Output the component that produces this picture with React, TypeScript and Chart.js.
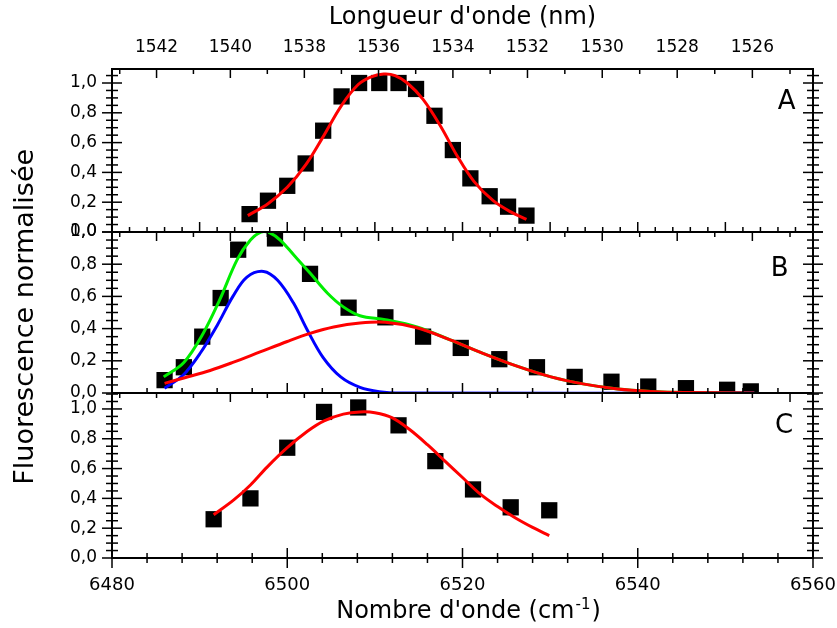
import React, { useEffect, useRef } from 'react';
import { Chart, registerables } from 'chart.js';

Chart.register(...registerables);

// ---------- data ----------
const X_MIN = 6480;
const X_MAX = 6560;
const X_TICKS = [6480, 6500, 6520, 6540, 6560];
const NM_TICKS = [1542, 1540, 1538, 1536, 1534, 1532, 1530, 1528, 1526];
const Y_TICKS = [0, 0.2, 0.4, 0.6, 0.8, 1.0];

const A_MAX = 1.094;
const B_MAX = 1.0;
const C_MAX = 1.107;

// Panel A
const A_X = [6495.7, 6497.8, 6500.0, 6502.1, 6504.1, 6506.2, 6508.2, 6510.5, 6512.7, 6514.7, 6516.8, 6518.9, 6520.9, 6523.1, 6525.2, 6527.3];
const A_Y = [0.12, 0.21, 0.31, 0.46, 0.68, 0.91, 1.0, 1.0, 1.0, 0.96, 0.78, 0.55, 0.36, 0.24, 0.17, 0.11];
const A_FIT_X = [6495.5, 6497.8, 6500.0, 6502.1, 6504.0, 6506.2, 6508.1, 6509.5, 6511.0, 6512.3, 6513.7, 6515.5, 6517.5, 6519.4, 6521.3, 6523.5, 6525.5, 6527.3];
const A_FIT_Y = [0.11, 0.19, 0.30, 0.45, 0.63, 0.85, 0.99, 1.04, 1.06, 1.05, 1.0, 0.89, 0.71, 0.51, 0.34, 0.21, 0.135, 0.085];

// Panel B
const B_X = [6486.0, 6488.2, 6490.3, 6492.4, 6494.4, 6498.6, 6502.6, 6507.0, 6511.2, 6515.5, 6519.8, 6524.2, 6528.5, 6532.8, 6537.0, 6541.2, 6545.5, 6550.2, 6552.9];
const B_Y = [0.08, 0.16, 0.35, 0.59, 0.89, 0.96, 0.74, 0.53, 0.47, 0.35, 0.28, 0.21, 0.16, 0.10, 0.07, 0.04, 0.03, 0.02, 0.01];
const B_BLUE_X = [6486.0, 6488.1, 6490.1, 6492.0, 6493.8, 6495.4, 6497.3, 6498.9, 6500.7, 6502.3, 6504.1, 6506.1, 6508.3, 6510.5, 6513.0, 6553.3];
const B_BLUE_Y = [0.03, 0.11, 0.25, 0.42, 0.60, 0.72, 0.755, 0.70, 0.56, 0.39, 0.22, 0.10, 0.035, 0.008, 0, 0];
const B_RED_X = [6486.0, 6488.3, 6491.2, 6493.8, 6496.9, 6500.0, 6502.6, 6505.3, 6508.3, 6511.2, 6514.8, 6518.6, 6522.4, 6526.3, 6530.1, 6533.9, 6537.7, 6541.5, 6545.3, 6553.3];
const B_RED_Y = [0.06, 0.095, 0.14, 0.19, 0.255, 0.32, 0.37, 0.41, 0.435, 0.44, 0.405, 0.33, 0.245, 0.165, 0.10, 0.055, 0.025, 0.01, 0.003, 0];
const B_GREEN_X = [6485.9, 6488.2, 6490.4, 6492.3, 6494.3, 6495.8, 6497.0, 6498.0, 6499.2, 6500.7, 6502.6, 6504.6, 6506.4, 6508.3, 6511.2, 6514.8, 6518.6, 6522.4, 6526.3, 6530.1, 6533.9, 6537.7, 6541.5, 6545.3, 6553.3];
const B_GREEN_Y = [0.10, 0.19, 0.37, 0.58, 0.83, 0.95, 1.0, 0.995, 0.95, 0.86, 0.745, 0.62, 0.535, 0.48, 0.455, 0.41, 0.33, 0.245, 0.165, 0.10, 0.055, 0.025, 0.01, 0.003, 0];

// Panel C
const C_X = [6491.6, 6495.8, 6500.0, 6504.2, 6508.1, 6512.7, 6516.9, 6521.2, 6525.5, 6529.9];
const C_Y = [0.26, 0.40, 0.74, 0.98, 1.01, 0.89, 0.65, 0.46, 0.34, 0.32];
const C_FIT_X = [6491.6, 6493.9, 6495.8, 6497.7, 6500.0, 6502.3, 6504.2, 6506.4, 6508.3, 6510.0, 6512.0, 6514.0, 6516.0, 6518.0, 6520.0, 6522.0, 6524.0, 6526.0, 6528.0, 6529.9];
const C_FIT_Y = [0.29, 0.39, 0.49, 0.61, 0.74, 0.85, 0.92, 0.965, 0.98, 0.975, 0.94, 0.86, 0.76, 0.65, 0.54, 0.43, 0.345, 0.27, 0.205, 0.15];

// Panel letters
const PANEL_LABELS = ['A', 'B', 'C'];
const PANEL_LABEL_X = [6557.0, 6556.2, 6556.7];
const PANEL_LABEL_Y = [0.872, 0.77, 0.886];

// Bottom axis title (with superscript)
const X_TITLE_MAIN = "Nombre d'onde (cm";
const X_TITLE_SUP = '-1';
const X_TITLE_END = ')';

// ---------- styling ----------
const FONT = 'DejaVu Sans';
const PANEL_IDS = ['yA', 'yB', 'yC'];
const Y_MAJOR = 0.2;
const Y_MINOR = 0.05;
const TOP_NM_MAJOR = [2, 2, 5];
const BOTTOM_CM_MINOR = [2, 4, 4];
const BOTTOM_CM_MAJOR = [10, 20, 20];

const zip = (xs: number[], ys: number[]) => xs.map((x, i) => ({ x, y: ys[i] }));
const fmtY = (v: any) => Number(v).toFixed(1).replace('.', ',');

const panelPlugin = {
  id: 'panelFrames',
  afterDatasetsDraw(chart: any) {
    const ctx = chart.ctx;
    const ca = chart.chartArea;
    const xs = chart.scales.x;
    const line = (x1: number, y1: number, x2: number, y2: number) => {
      ctx.beginPath();
      ctx.moveTo(x1, y1);
      ctx.lineTo(x2, y2);
      ctx.stroke();
    };
    ctx.save();
    ctx.strokeStyle = '#000';
    PANEL_IDS.forEach((id, i) => {
      const s = chart.scales[id];
      ctx.lineWidth = 1.5;
      const n = Math.floor(s.max / Y_MINOR + 1e-6);
      for (let k = 0; k <= n; k++) {
        const v = k * Y_MINOR;
        const y = s.getPixelForValue(v);
        const major = k % Math.round(Y_MAJOR / Y_MINOR) === 0;
        const h = major ? 10 : 6;
        line(ca.left - h, y, ca.left + h, y);
        line(ca.right - h, y, ca.right + h, y);
      }
      for (let nm = 1525; nm <= 1543; nm++) {
        const x = xs.getPixelForValue(1e7 / nm);
        if (x < ca.left || x > ca.right) continue;
        const major = nm % TOP_NM_MAJOR[i] === 0;
        line(x, s.top, x, s.top + (major ? 9 : 5));
      }
      const last = i === PANEL_IDS.length - 1;
      for (let v = X_MIN; v <= X_MAX; v += BOTTOM_CM_MINOR[i]) {
        const x = xs.getPixelForValue(v);
        const major = (v - X_MIN) % BOTTOM_CM_MAJOR[i] === 0;
        const h = major ? 10 : 5;
        line(x, s.bottom - h, x, last ? s.bottom + h : s.bottom);
      }
      ctx.lineWidth = 2;
      ctx.strokeRect(ca.left, s.top, ca.right - ca.left, s.bottom - s.top);
      ctx.fillStyle = '#000';
      ctx.font = `26px "${FONT}"`;
      ctx.textAlign = 'center';
      ctx.textBaseline = 'middle';
      ctx.fillText(PANEL_LABELS[i], xs.getPixelForValue(PANEL_LABEL_X[i]), s.getPixelForValue(PANEL_LABEL_Y[i]));
    });

    // bottom axis title with a real superscript
    const big = `24px "${FONT}"`;
    const small = `15px "${FONT}"`;
    ctx.textAlign = 'left';
    ctx.textBaseline = 'alphabetic';
    ctx.font = big;
    const w1 = ctx.measureText(X_TITLE_MAIN).width;
    const w3 = ctx.measureText(X_TITLE_END).width;
    ctx.font = small;
    const w2 = ctx.measureText(X_TITLE_SUP).width;
    const total = w1 + w2 + w3 + 2;
    const baseY = xs.bottom - 10;
    let x0 = (ca.left + ca.right) / 2 + 6 - total / 2;
    ctx.font = big;
    ctx.fillText(X_TITLE_MAIN, x0, baseY);
    x0 += w1 + 1;
    ctx.font = small;
    ctx.fillText(X_TITLE_SUP, x0, baseY - 9);
    x0 += w2 + 1;
    ctx.font = big;
    ctx.fillText(X_TITLE_END, x0, baseY);
    ctx.restore();
  },
};

function yAxis(max: number, weight: number, stackWeight: number, title?: string) {
  return {
    type: 'linear',
    position: 'left',
    stack: 'panels',
    stackWeight,
    weight,
    min: 0,
    max,
    afterFit: (s: any) => { s.width = 112; s.paddingTop = 0; s.paddingBottom = 0; },
    afterBuildTicks: (s: any) => { s.ticks = Y_TICKS.map((v) => ({ value: v })); },
    ticks: { color: '#000', font: { family: FONT, size: 17 }, padding: 15, autoSkip: false, callback: fmtY },
    grid: { display: false, drawTicks: false },
    border: { display: false },
    title: title
      ? { display: true, text: title, color: '#000', font: { family: FONT, size: 27 }, padding: { top: 10, bottom: 0 } }
      : { display: false },
  };
}

const fitX = (h: number) => (s: any) => { s.height = h; s.paddingLeft = 0; s.paddingRight = 0; };

export default function App() {
  const ref = useRef<HTMLCanvasElement | null>(null);
  useEffect(() => {
    document.body.style.margin = '0';
    const curve = (id: string, xs: number[], ys: number[], color: string, order: number) => ({
      yAxisID: id,
      xAxisID: 'x',
      data: zip(xs, ys),
      showLine: true,
      borderColor: color,
      borderWidth: 3,
      pointRadius: 0,
      tension: 0.35,
      order,
    });
    const pts = (id: string, xs: number[], ys: number[]) => ({
      yAxisID: id,
      xAxisID: 'x',
      data: zip(xs, ys),
      showLine: false,
      pointStyle: 'rect',
      pointRadius: 11.5,
      pointBackgroundColor: '#000',
      pointBorderColor: '#000',
      pointBorderWidth: 0,
      order: 10,
    });
    const chart = new Chart(ref.current as HTMLCanvasElement, {
      type: 'scatter',
      data: {
        datasets: [
          pts('yA', A_X, A_Y),
          curve('yA', A_FIT_X, A_FIT_Y, '#ff0000', 1),
          pts('yB', B_X, B_Y),
          curve('yB', B_GREEN_X, B_GREEN_Y, '#00ee00', 3),
          curve('yB', B_BLUE_X, B_BLUE_Y, '#0000ff', 2),
          curve('yB', B_RED_X, B_RED_Y, '#ff0000', 1),
          pts('yC', C_X, C_Y),
          curve('yC', C_FIT_X, C_FIT_Y, '#ff0000', 1),
        ] as any,
      },
      options: {
        responsive: false,
        animation: false,
        devicePixelRatio: 1,
        layout: { padding: { left: 0, right: 24, top: 0, bottom: 0 } },
        plugins: { legend: { display: false }, tooltip: { enabled: false } },
        scales: {
          x: {
            type: 'linear',
            position: 'bottom',
            min: X_MIN,
            max: X_MAX,
            afterFit: fitX(70),
            afterBuildTicks: (s: any) => { s.ticks = X_TICKS.map((v) => ({ value: v })); },
            ticks: { color: '#000', font: { family: FONT, size: 18 }, padding: 17, maxRotation: 0, autoSkip: false, callback: (v: any) => String(v) },
            grid: { display: false, drawTicks: false },
            border: { display: false },
            title: { display: false },
          },
          x2: {
            type: 'linear',
            position: 'top',
            min: X_MIN,
            max: X_MAX,
            afterFit: fitX(69),
            afterBuildTicks: (s: any) => { s.ticks = NM_TICKS.map((nm) => ({ value: 1e7 / nm })); },
            ticks: { color: '#000', font: { family: FONT, size: 17 }, padding: 11, maxRotation: 0, autoSkip: false, callback: (v: any) => String(Math.round(1e7 / Number(v))) },
            grid: { display: false, drawTicks: false },
            border: { display: false },
            title: { display: true, text: "Longueur d'onde (nm)", color: '#000', font: { family: FONT, size: 24 }, padding: { top: 3, bottom: 0 } },
          },
          yA: yAxis(A_MAX, 3, 163),
          yB: yAxis(B_MAX, 2, 161, 'Fluorescence normalisée '),
          yC: yAxis(C_MAX, 1, 165),
        } as any,
      },
      plugins: [panelPlugin],
    });
    return () => chart.destroy();
  }, []);
  return (
    <div style={{ width: 837, height: 628 }}>
      <canvas ref={ref} width={837} height={628} />
    </div>
  );
}
